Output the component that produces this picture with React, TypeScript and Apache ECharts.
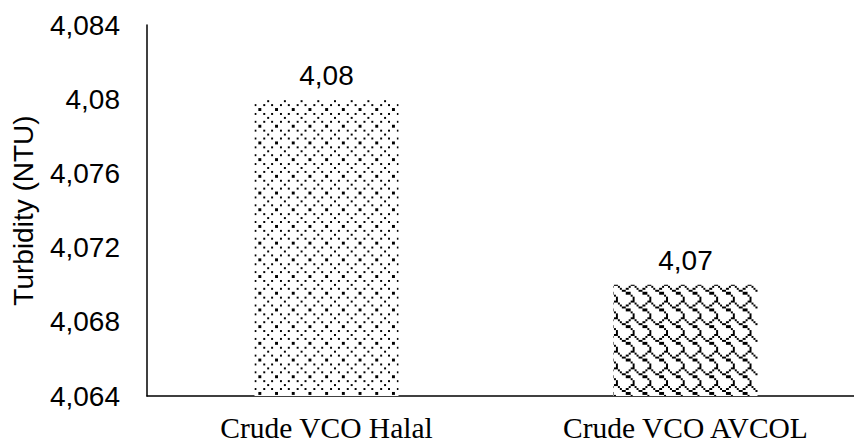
import { useEffect, useRef } from 'react';
import * as echarts from 'echarts';

// Turbidity of the two crude virgin coconut oil samples
const categories = ['Crude VCO Halal', 'Crude VCO AVCOL'];
const turbidity = [4.08, 4.07];

// Value axis range and step
const yMin = 4.064;
const yMax = 4.084;
const yStep = 0.004;

// 8x8 hatch tiles, one byte per row, most significant bit on the left
const dottedRows = [0x80, 0x00, 0x22, 0x00, 0x08, 0x00, 0x22, 0x00];
const shingleRows = [0x03, 0x84, 0x48, 0x30, 0x0c, 0x02, 0x01, 0x01];

const CELL = 16.7 / 8;

function hatch(rows: number[]) {
  let rects = '';
  rows.forEach((bits, r) => {
    for (let c = 0; c < 8; c++) {
      if (bits & (0x80 >> c)) rects += `<rect x="${c}" y="${r}" width="1" height="1"/>`;
    }
  });
  const size = 8 * CELL;
  const svg =
    `<svg xmlns="http://www.w3.org/2000/svg" width="${size}" height="${size}" viewBox="0 0 8 8" shape-rendering="crispEdges">` +
    `<rect width="8" height="8" fill="#fff"/><g fill="#000">${rects}</g></svg>`;
  return {
    image: 'data:image/svg+xml;charset=utf-8,' + encodeURIComponent(svg),
    repeat: 'repeat' as const,
    imageWidth: size,
    imageHeight: size,
  };
}

const commaDecimal = (v: number) => String(+v.toFixed(3)).replace('.', ',');

export default function App() {
  const ref = useRef<HTMLDivElement>(null);

  useEffect(() => {
    if (!ref.current) return;
    const chart = echarts.init(ref.current, null, { renderer: 'svg' });
    const fills = [hatch(dottedRows), hatch(shingleRows)];

    chart.setOption({
      animation: false,
      backgroundColor: '#fff',
      grid: { left: 147, top: 25, width: 718, height: 371, outerBoundsMode: 'none' },
      xAxis: {
        type: 'category',
        data: categories,
        axisTick: { show: false },
        axisLine: { lineStyle: { color: '#000', width: 1.5 } },
        axisLabel: {
          color: '#000',
          fontFamily: 'Liberation Serif',
          fontSize: 29.5,
          margin: 17,
        },
      },
      yAxis: {
        type: 'value',
        min: yMin,
        max: yMax,
        interval: yStep,
        name: 'Turbidity (NTU)',
        nameLocation: 'middle',
        nameGap: 110,
        nameTextStyle: { color: '#000', fontFamily: 'Liberation Sans', fontSize: 28 },
        axisLine: { show: true, lineStyle: { color: '#000', width: 1.5 } },
        axisTick: { show: false },
        splitLine: { show: false },
        axisLabel: {
          color: '#000',
          fontFamily: 'Liberation Sans',
          fontSize: 28,
          margin: 27,
          formatter: (v: number) => commaDecimal(v),
        },
      },
      series: [
        {
          type: 'bar',
          barWidth: 144,
          data: turbidity.map((v, i) => ({ value: v, itemStyle: { color: fills[i] } })),
          label: {
            show: true,
            position: 'top',
            distance: 10,
            color: '#000',
            fontFamily: 'Liberation Sans',
            fontSize: 28,
            formatter: (p: any) => commaDecimal(p.value),
          },
        },
      ],
    });

    return () => chart.dispose();
  }, []);

  return (
    <div
      ref={ref}
      style={{ position: 'fixed', left: 0, top: 0, width: 854, height: 443 }}
    />
  );
}
